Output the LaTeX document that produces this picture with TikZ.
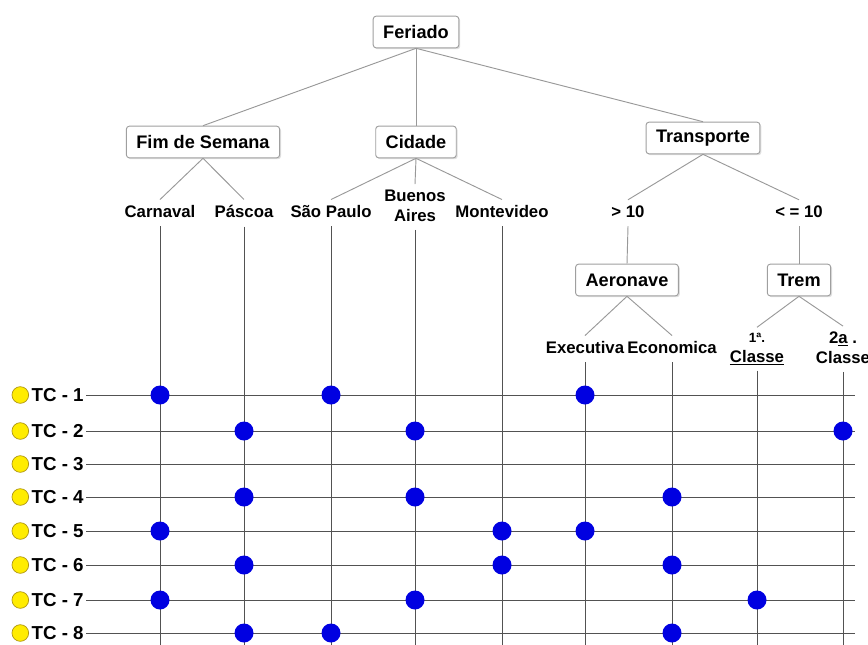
\documentclass[tikz,border=0pt]{standalone}
\usepackage{fontspec}
\setmainfont{Liberation Sans}
\usetikzlibrary{positioning,shadows}

\definecolor{azul}{RGB}{0,0,225}
\definecolor{amarelo}{RGB}{255,236,0}
\definecolor{borda}{RGB}{175,150,20}

\tikzset{
  caixa/.style={draw=gray!75, fill=white, rounded corners=2.5pt, line width=0.8pt,
    font=\fontsize{15.5}{18}\selectfont\bfseries, inner xsep=0.3cm, minimum height=0.95cm,
    drop shadow={opacity=0.25, shadow xshift=1.2pt, shadow yshift=-1.2pt}},
  folha/.style={font=\fontsize{14.3}{16.5}\selectfont\bfseries, align=center, inner xsep=0.5pt,
    inner ysep=5pt, text depth=0.22em},
  ramo/.style={draw=gray!80, line width=0.8pt},
  grade/.style={draw=black!68, line width=0.8pt},
  ponto/.style={circle, fill=azul, inner sep=0pt, minimum size=0.57cm},
  sol/.style={circle, fill=amarelo, draw=borda, line width=0.6pt, inner sep=0pt, minimum size=0.5cm},
  caso/.style={font=\fontsize{16}{18}\selectfont\bfseries, inner xsep=2pt}
}

\begin{document}
\begin{tikzpicture}[x=0.03cm, y=-0.03cm]
\useasboundingbox (0,0) rectangle (868,645);
\coordinate (base) at (0,645);
\coordinate (dir) at (855,0);

% arvore
\node[caixa] (feriado) at (416,32) {Feriado};
\node[caixa] (fim) at (203,142) {Fim de Semana};
\node[caixa] (cidade) at (416,142) {Cidade};
\node[caixa] (transp) at (703,138) {Transporte};
\node[caixa] (aero) at (627,280) {Aeronave};
\node[caixa] (trem) at (799,280) {Trem};

\node[folha] (carn) at (160,213) {Carnaval};
\node[folha] (pasc) at (244,213) {Páscoa};
\node[folha] (sp) at (331,213) {São Paulo};
\node[folha] (ba) at (415,207) {Buenos\\Aires};
\node[folha] (mont) at (502,213) {Montevideo};
\node[folha] (mais) at (628,213) {> 10};
\node[folha] (menos) at (799,213) {< = 10};
\node[folha] (exec) at (585,349) {Executiva};
\node[folha] (econ) at (672,349) {Economica};
\node[folha] (prim) at (757,349) {{\fontsize{11.5}{12}\selectfont 1ª.}\\\underline{Classe}};
\node[folha] (seg) at (843,349) {2\underline{a} .\\Classe};

\draw[ramo] (feriado.south) -- (fim.north);
\draw[ramo] (feriado.south) -- (cidade.north);
\draw[ramo] (feriado.south) -- (transp.north);
\draw[ramo] (fim.south) -- (carn.north);
\draw[ramo] (fim.south) -- (pasc.north);
\draw[ramo] (cidade.south) -- (sp.north);
\draw[ramo] (cidade.south) -- (ba.north);
\draw[ramo] (cidade.south) -- (mont.north);
\draw[ramo] (transp.south) -- (mais.north);
\draw[ramo] (transp.south) -- (menos.north);
\draw[ramo] (mais.south) -- (aero.north);
\draw[ramo] (menos.south) -- (trem.north);
\draw[ramo] (aero.south) -- (exec.north);
\draw[ramo] (aero.south) -- (econ.north);
\draw[ramo] (trem.south) -- (prim.north);
\draw[ramo] (trem.south) -- (seg.north);

% casos de teste
\node[caso, anchor=west] (tc1) at (29,395) {TC - 1};
\node[caso, anchor=west] (tc2) at (29,431) {TC - 2};
\node[caso, anchor=west] (tc3) at (29,464) {TC - 3};
\node[caso, anchor=west] (tc4) at (29,497) {TC - 4};
\node[caso, anchor=west] (tc5) at (29,531) {TC - 5};
\node[caso, anchor=west] (tc6) at (29,565) {TC - 6};
\node[caso, anchor=west] (tc7) at (29,600) {TC - 7};
\node[caso, anchor=west] (tc8) at (29,633) {TC - 8};

\node[sol] (s1) [left=0pt of tc1] {};
\node[sol] (s2) [left=0pt of tc2] {};
\node[sol] (s3) [left=0pt of tc3] {};
\node[sol] (s4) [left=0pt of tc4] {};
\node[sol] (s5) [left=0pt of tc5] {};
\node[sol] (s6) [left=0pt of tc6] {};
\node[sol] (s7) [left=0pt of tc7] {};
\node[sol] (s8) [left=0pt of tc8] {};

\draw[grade] (tc1.east) -- (tc1 -| dir);
\draw[grade] (tc2.east) -- (tc2 -| dir);
\draw[grade] (tc3.east) -- (tc3 -| dir);
\draw[grade] (tc4.east) -- (tc4 -| dir);
\draw[grade] (tc5.east) -- (tc5 -| dir);
\draw[grade] (tc6.east) -- (tc6 -| dir);
\draw[grade] (tc7.east) -- (tc7 -| dir);
\draw[grade] (tc8.east) -- (tc8 -| dir);

\draw[grade] (carn.south) -- (carn |- base);
\draw[grade] (pasc.south) -- (pasc |- base);
\draw[grade] (sp.south) -- (sp |- base);
\draw[grade] (ba.south) -- (ba |- base);
\draw[grade] (mont.south) -- (mont |- base);
\draw[grade] (exec.south) -- (exec |- base);
\draw[grade] (econ.south) -- (econ |- base);
\draw[grade] (prim.south) -- (prim |- base);
\draw[grade] (seg.south) -- (seg |- base);

% pontos
\node[ponto] (p11) at (carn |- tc1) {};
\node[ponto] (p12) at (sp |- tc1) {};
\node[ponto] (p13) at (exec |- tc1) {};
\node[ponto] (p21) at (pasc |- tc2) {};
\node[ponto] (p22) at (ba |- tc2) {};
\node[ponto] (p23) at (seg |- tc2) {};
\node[ponto] (p41) at (pasc |- tc4) {};
\node[ponto] (p42) at (ba |- tc4) {};
\node[ponto] (p43) at (econ |- tc4) {};
\node[ponto] (p51) at (carn |- tc5) {};
\node[ponto] (p52) at (mont |- tc5) {};
\node[ponto] (p53) at (exec |- tc5) {};
\node[ponto] (p61) at (pasc |- tc6) {};
\node[ponto] (p62) at (mont |- tc6) {};
\node[ponto] (p63) at (econ |- tc6) {};
\node[ponto] (p71) at (carn |- tc7) {};
\node[ponto] (p72) at (ba |- tc7) {};
\node[ponto] (p73) at (prim |- tc7) {};
\node[ponto] (p81) at (pasc |- tc8) {};
\node[ponto] (p82) at (sp |- tc8) {};
\node[ponto] (p83) at (econ |- tc8) {};
\end{tikzpicture}
\end{document}
